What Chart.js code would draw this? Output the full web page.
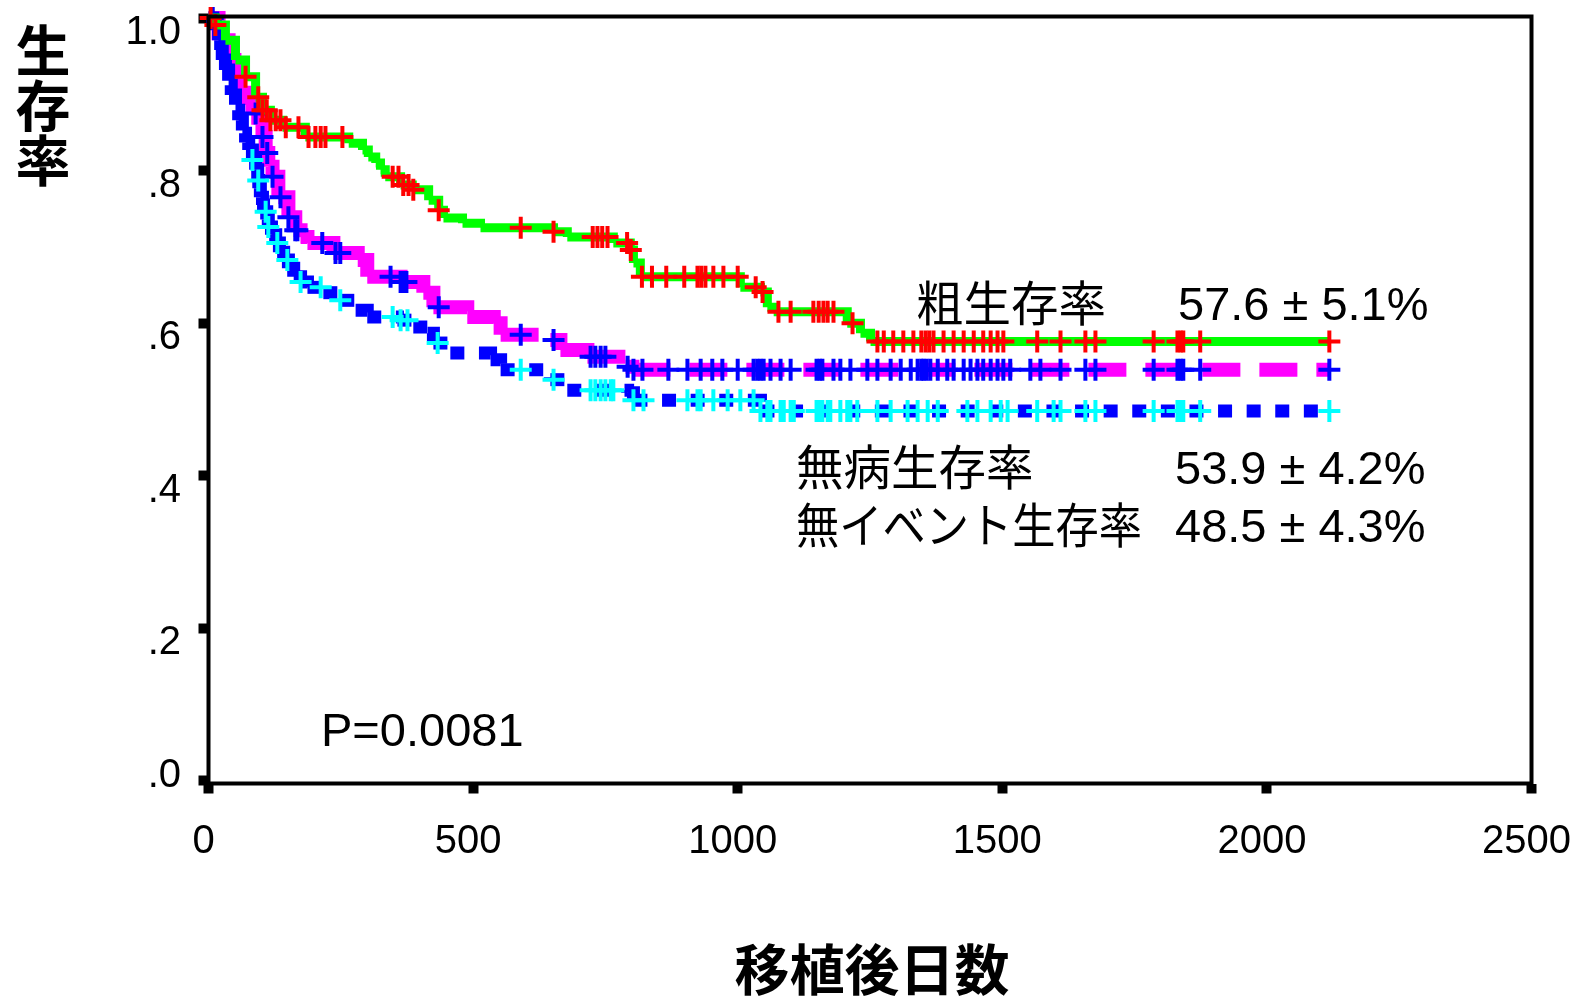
<!DOCTYPE html>
<html>
<head>
<meta charset="utf-8">
<script src="https://cdn.jsdelivr.net/npm/chart.js@4.4.1/dist/chart.umd.min.js"></script>
<style>
  html, body { margin: 0; padding: 0; background: #fff; }
  #wrap { width: 1575px; height: 997px; }
</style>
</head>
<body>
<div id="wrap"><canvas id="km" width="1575" height="997"></canvas></div>
<script>
// days after transplant / survival probability (step points)
const xTicks = [0, 500, 1000, 1500, 2000, 2500];
const yTicks = [0, 0.2, 0.4, 0.6, 0.8, 1.0];
const yTickLabels = ['.0', '.2', '.4', '.6', '.8', '1.0'];
const lastDay = 2118;

// overall survival
const osTimes = [0, 13, 32, 51, 70, 89, 102, 117, 140, 183, 265, 291, 302, 316, 325, 334, 363, 385, 416, 435, 444, 480, 514, 652, 678, 765, 797, 803, 816, 1005, 1043, 1056, 1068, 1207, 1232, 1251];
const osSurv = [1, 0.991, 0.971, 0.945, 0.923, 0.896, 0.879, 0.866, 0.857, 0.844, 0.836, 0.827, 0.818, 0.810, 0.801, 0.792, 0.781, 0.775, 0.761, 0.748, 0.738, 0.731, 0.725, 0.720, 0.713, 0.705, 0.696, 0.679, 0.661, 0.647, 0.641, 0.621, 0.615, 0.600, 0.587, 0.576];
const osCensored = [4, 13, 70, 94, 102, 110, 117, 127, 136, 146, 170, 189, 202, 212, 221, 253, 348, 359, 368, 378, 387, 435, 590, 652, 726, 735, 744, 754, 791, 798, 819, 838, 865, 899, 924, 931, 939, 954, 973, 1000, 1034, 1047, 1077, 1100, 1143, 1153, 1162, 1170, 1181, 1217, 1264, 1276, 1294, 1313, 1332, 1347, 1355, 1362, 1370, 1389, 1408, 1427, 1446, 1464, 1478, 1491, 1502, 1566, 1610, 1657, 1676, 1786, 1831, 1837, 1842, 1874, 2118];

// disease-free survival
const dfsTimes = [0, 19, 38, 49, 57, 70, 83, 94, 102, 108, 113, 121, 132, 151, 164, 174, 187, 236, 282, 300, 363, 406, 425, 489, 539, 552, 646, 665, 716, 788, 801];
const dfsSurv = [1, 0.971, 0.945, 0.919, 0.902, 0.886, 0.875, 0.860, 0.844, 0.823, 0.805, 0.792, 0.765, 0.739, 0.722, 0.713, 0.705, 0.692, 0.683, 0.661, 0.654, 0.640, 0.621, 0.608, 0.600, 0.585, 0.578, 0.565, 0.556, 0.543, 0.539];
const dfsCensored = [8, 89, 102, 111, 121, 136, 151, 164, 168, 215, 240, 249, 344, 363, 368, 374, 435, 590, 652, 722, 731, 741, 750, 792, 803, 820, 869, 905, 930, 952, 971, 1000, 1030, 1037, 1043, 1049, 1062, 1081, 1100, 1149, 1155, 1160, 1181, 1194, 1213, 1245, 1264, 1289, 1308, 1327, 1340, 1347, 1351, 1357, 1364, 1378, 1396, 1408, 1427, 1440, 1453, 1464, 1478, 1491, 1502, 1515, 1553, 1572, 1610, 1657, 1676, 1786, 1831, 1837, 1842, 1874, 2118];

// event-free survival
const efsTimes = [0, 8, 13, 19, 23, 26, 32, 38, 43, 51, 57, 64, 70, 76, 83, 89, 93, 95, 98, 102, 104, 110, 113, 119, 127, 134, 142, 151, 161, 174, 187, 217, 249, 278, 300, 357, 387, 414, 425, 457, 533, 552, 646, 678, 792, 803, 1043];
const efsSurv = [1, 0.991, 0.984, 0.971, 0.958, 0.945, 0.932, 0.912, 0.899, 0.879, 0.866, 0.849, 0.837, 0.827, 0.814, 0.801, 0.787, 0.777, 0.765, 0.755, 0.746, 0.736, 0.726, 0.716, 0.705, 0.693, 0.683, 0.672, 0.661, 0.654, 0.647, 0.640, 0.630, 0.617, 0.608, 0.604, 0.595, 0.587, 0.574, 0.561, 0.552, 0.539, 0.526, 0.512, 0.509, 0.499, 0.485];
const efsCensored = [83, 94, 108, 113, 130, 149, 174, 212, 249, 348, 363, 376, 433, 590, 652, 722, 731, 741, 750, 760, 765, 803, 822, 905, 924, 930, 954, 981, 1005, 1030, 1043, 1056, 1062, 1081, 1087, 1100, 1106, 1149, 1155, 1160, 1170, 1175, 1194, 1207, 1213, 1226, 1264, 1289, 1321, 1340, 1359, 1378, 1434, 1453, 1478, 1497, 1510, 1566, 1597, 1610, 1657, 1676, 1786, 1831, 1837, 1842, 1874, 2118];

const seriesNames = ['粗生存率', '無病生存率', '無イベント生存率'];
const seriesRates = ['57.6 ± 5.1%', '53.9 ± 4.2%', '48.5 ± 4.3%'];
const pValue = 'P=0.0081';

function stepPoints(times, surv) {
  let pts = times.map((t, i) => ({ x: t, y: surv[i] }));
  pts.push({ x: lastDay, y: surv[surv.length - 1] });
  return pts;
}

// survival value in effect at day t
function survAt(times, surv, t) {
  let v = surv[0];
  for (let i = 0; i < times.length; i++) {
    if (times[i] <= t) v = surv[i];
  }
  return v;
}

function censorPoints(cens, times, surv) {
  return cens.map(t => ({ x: t, y: survAt(times, surv, t) }));
}

function curve(data, color, width, dash, order) {
  return {
    type: 'line',
    data: data,
    borderColor: color,
    borderWidth: width,
    borderDash: dash,
    borderCapStyle: 'butt',
    borderJoinStyle: 'miter',
    stepped: true,
    pointRadius: 0,
    fill: false,
    clip: false,
    order: order,
    // each step is stroked on its own so the dash pattern starts fresh at every step
    segment: { borderDashOffset: c => (c.p0DataIndex % 2) * 0.0001 }
  };
}

function marks(data, color, order) {
  return {
    type: 'scatter',
    data: data,
    showLine: false,
    pointStyle: 'cross',
    pointRadius: 11,
    pointBorderWidth: 4,
    borderColor: color,
    backgroundColor: color,
    clip: false,
    order: order
  };
}

const JP = '"Noto Sans CJK JP", sans-serif';
const LAT = '"Liberation Sans", Arial, sans-serif';

const decor = {
  id: 'decor',
  afterDatasetsDraw(chart) {
    const ctx = chart.ctx;
    const a = chart.chartArea;
    ctx.save();
    ctx.strokeStyle = '#000';
    ctx.lineWidth = 4;
    ctx.strokeRect(a.left, a.top, a.right - a.left, a.bottom - a.top);
    ctx.restore();
  },
  afterDraw(chart) {
    const ctx = chart.ctx;
    const xs = chart.scales.x;
    const ys = chart.scales.y;
    ctx.save();
    ctx.fillStyle = '#000';

    // y tick labels
    ctx.font = '40px ' + LAT;
    ctx.textAlign = 'right';
    ctx.textBaseline = 'alphabetic';
    yTicks.forEach((v, i) => {
      let off = v === 0 ? -8 : 12;
      ctx.fillText(yTickLabels[i], 181, ys.getPixelForValue(v) + off + 14);
    });

    // x tick labels
    ctx.textAlign = 'center';
    xTicks.forEach(v => {
      ctx.fillText(String(v), xs.getPixelForValue(v) - 5, 853);
    });

    // axis titles
    ctx.font = 'bold 55px ' + JP;
    ctx.textBaseline = 'middle';
    ctx.fillText('移植後日数', 872, 969);
    const yTitle = '生存率';
    for (let i = 0; i < yTitle.length; i++) {
      ctx.fillText(yTitle[i], 43, 50 + i * 55);
    }

    // legend text next to the curves
    ctx.textAlign = 'left';
    ctx.textBaseline = 'alphabetic';
    ctx.font = '47.5px ' + JP;
    ctx.fillText(seriesNames[0], 916, 321);
    ctx.fillText(seriesNames[1], 796, 485);
    ctx.fillText(seriesNames[2], 796, 543, 346);
    ctx.font = '47px ' + LAT;
    ctx.fillText(seriesRates[0], 1178, 320);
    ctx.fillText(seriesRates[1], 1175, 484);
    ctx.fillText(seriesRates[2], 1175, 542);

    ctx.font = '47px ' + LAT;
    ctx.fillText(pValue, 321, 746);
    ctx.restore();
  }
};

const chart = new Chart(document.getElementById('km'), {
  data: {
    datasets: [
      curve(stepPoints(dfsTimes, dfsSurv), '#ff00ff', 14, [38, 19], 6),
      marks(censorPoints(dfsCensored, dfsTimes, dfsSurv), '#0000ff', 5),
      curve(stepPoints(efsTimes, efsSurv), '#0000ff', 13, [14, 14.6], 4),
      marks(censorPoints(efsCensored, efsTimes, efsSurv), '#00ffff', 3),
      curve(stepPoints(osTimes, osSurv), '#00ff00', 9, [], 2),
      marks(censorPoints(osCensored, osTimes, osSurv), '#ff0000', 1)
    ]
  },
  options: {
    responsive: false,
    devicePixelRatio: 1,
    animation: false,
    layout: { padding: { left: 198.5, top: 16.5, right: 43.5, bottom: 203.5 } },
    plugins: { legend: { display: false }, tooltip: { enabled: false } },
    scales: {
      x: {
        type: 'linear',
        min: 0,
        max: 2500,
        afterBuildTicks: s => { s.ticks = xTicks.map(v => ({ value: v })); },
        afterFit: s => { s.height = 10; },
        ticks: { display: false },
        border: { display: false },
        grid: { drawOnChartArea: false, drawTicks: true, tickLength: 10, tickWidth: 10, tickColor: '#000' }
      },
      y: {
        type: 'linear',
        min: -0.0033,
        max: 1.002,
        afterBuildTicks: s => { s.ticks = yTicks.map(v => ({ value: v })); },
        afterFit: s => { s.width = 10; },
        ticks: { display: false },
        border: { display: false },
        grid: { drawOnChartArea: false, drawTicks: true, tickLength: 10, tickWidth: 10, tickColor: '#000' }
      }
    }
  },
  plugins: [decor]
});
</script>
</body>
</html>
